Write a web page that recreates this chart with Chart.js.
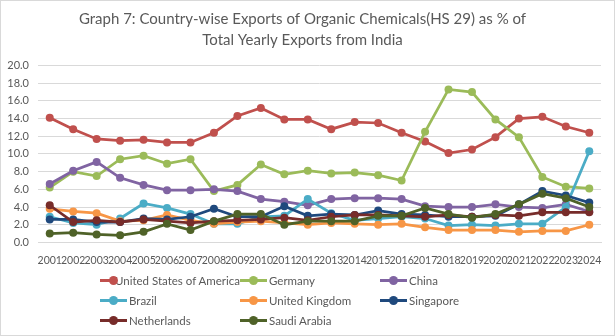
<!DOCTYPE html>
<html>
<head>
<meta charset="utf-8">
<script src="https://cdn.jsdelivr.net/npm/chart.js@4.4.0/dist/chart.umd.min.js"></script>
<style>
  html, body { margin: 0; padding: 0; background: #fff; }
  #wrap { position: relative; width: 615px; height: 336px; }
  #frame { position: absolute; left: 0; top: 0; width: 613px; height: 334px; border: 1px solid #d9d9d9; pointer-events: none; }
  #legend { position: absolute; left: 100px; top: 270px; display: grid; grid-template-columns: 140px 140px 140px; grid-auto-rows: 20px; font-family: Lato, sans-serif; font-size: 11.5px; color: #595959; }
  #legend .item { display: flex; align-items: center; white-space: nowrap; }
  #legend .icon { position: relative; width: 27px; height: 3px; margin-right: 2px; }
  #legend .icon span { position: absolute; left: 9px; top: -3px; width: 9px; height: 9px; border-radius: 50%; }
</style>
</head>
<body>
<div id="wrap">
  <canvas id="chart" width="615" height="336"></canvas>
  <div id="legend"></div>
  <div id="frame"></div>
</div>
<script>
/************ 데이터 ************/
const years = ['2001','2002','2003','2004','2005','2006','2007','2008','2009','2010','2011','2012',
               '2013','2014','2015','2016','2017','2018','2019','2020','2021','2022','2023','2024'];

const countries = ['United States of America', 'Germany', 'China', 'Brazil',
                   'United Kingdom', 'Singapore', 'Netherlands', 'Saudi Arabia'];

const usa         = [14.1, 12.8, 11.7, 11.5, 11.6, 11.3, 11.3, 12.4, 14.3, 15.2, 13.9, 13.9, 12.8, 13.6, 13.5, 12.4, 11.4, 10.1, 10.5, 11.9, 14.0, 14.2, 13.1, 12.4];
const germany     = [6.2, 8.0, 7.5, 9.4, 9.8, 8.9, 9.4, 5.8, 6.5, 8.8, 7.7, 8.1, 7.8, 7.9, 7.6, 7.0, 12.5, 17.3, 17.0, 13.9, 11.9, 7.4, 6.3, 6.1];
const china       = [6.6, 8.1, 9.1, 7.3, 6.5, 5.9, 5.9, 6.0, 5.8, 4.9, 4.6, 4.2, 4.9, 5.0, 5.0, 4.9, 4.1, 4.0, 4.0, 4.3, 4.0, 3.9, 4.3, 3.5];
const brazil      = [2.9, 2.2, 2.0, 2.7, 4.4, 3.9, 3.2, 2.1, 2.1, 2.9, 3.0, 4.9, 3.3, 2.5, 2.7, 2.9, 2.7, 1.9, 2.0, 1.9, 2.1, 2.1, 4.0, 10.3];
const uk          = [3.8, 3.5, 3.3, 2.4, 2.5, 3.1, 2.5, 2.1, 2.3, 2.4, 2.2, 2.0, 2.2, 2.1, 2.0, 2.1, 1.7, 1.4, 1.4, 1.4, 1.2, 1.3, 1.3, 2.0];
const singapore   = [2.6, 2.6, 2.3, 2.3, 2.7, 2.6, 2.9, 3.8, 2.9, 2.9, 4.1, 3.0, 3.2, 3.1, 3.6, 3.2, 3.1, 2.9, 2.9, 3.0, 4.3, 5.8, 5.3, 4.5];
const netherlands = [4.2, 2.3, 2.5, 2.3, 2.6, 2.4, 2.2, 2.4, 2.5, 2.6, 2.8, 2.5, 2.9, 3.1, 3.1, 3.0, 2.9, 3.1, 2.9, 3.1, 3.0, 3.4, 3.4, 3.4];
const saudi       = [1.0, 1.1, 0.9, 0.8, 1.2, 2.1, 1.4, 2.4, 3.2, 3.2, 2.0, 2.4, 2.4, 2.4, 3.0, 3.0, 3.9, 3.2, 2.8, 3.2, 4.3, 5.5, 5.0, 4.0];

const series = [usa, germany, china, brazil, uk, singapore, netherlands, saudi];
const colors = ['#C0504D', '#9BBB59', '#8064A2', '#4BACC6', '#F79646', '#1F497D', '#772C2A', '#4F6228'];

/************ 차트 ************/
const datasets = [];
for (let i = 0; i < series.length; i++) {
  datasets.push({
    label: countries[i],
    data: series[i],
    borderColor: colors[i],
    backgroundColor: colors[i],
    borderWidth: 2.75,
    pointRadius: 4,
    pointBorderWidth: 0,
    tension: 0,
    order: series.length - i   // 나중 시리즈가 위에 그려지도록
  });
}

const font = 'Lato, sans-serif';

new Chart(document.getElementById('chart'), {
  type: 'line',
  data: { labels: years, datasets: datasets },
  options: {
    responsive: false,
    animation: false,
    layout: { padding: { left: 4, right: 14, top: 0, bottom: 65 } },
    plugins: {
      legend: { display: false },
      tooltip: { enabled: false },
      title: {
        display: true,
        text: ['Graph 7: Country-wise Exports of Organic Chemicals(HS 29) as % of', 'Total Yearly Exports from India'],
        color: '#595959',
        font: { family: font, size: 15, weight: 'normal', lineHeight: 1.45 },
        padding: { top: 8, bottom: 14 }
      }
    },
    scales: {
      x: {
        offset: true,
        grid: { display: false },
        border: { display: true, color: '#d9d9d9' },
        ticks: { color: '#595959', font: { family: font, size: 10.5 }, autoSkip: false, maxRotation: 0, minRotation: 0, padding: 4 }
      },
      y: {
        min: 0,
        max: 20,
        afterFit: function (axis) { axis.width = 34; },
        grid: { color: '#d9d9d9', drawTicks: false },
        border: { display: false },
        ticks: {
          stepSize: 2,
          color: '#595959',
          font: { family: font, size: 11 },
          padding: 9,
          callback: function (v) { return v.toFixed(1); }
        }
      }
    }
  }
});

/************ 범례 ************/
const legend = document.getElementById('legend');
for (let i = 0; i < countries.length; i++) {
  const item = document.createElement('div');
  item.className = 'item';
  item.innerHTML = '<div class="icon" style="background:' + colors[i] + '"><span style="background:' + colors[i] + '"></span></div>' + countries[i];
  legend.appendChild(item);
}
</script>
</body>
</html>
